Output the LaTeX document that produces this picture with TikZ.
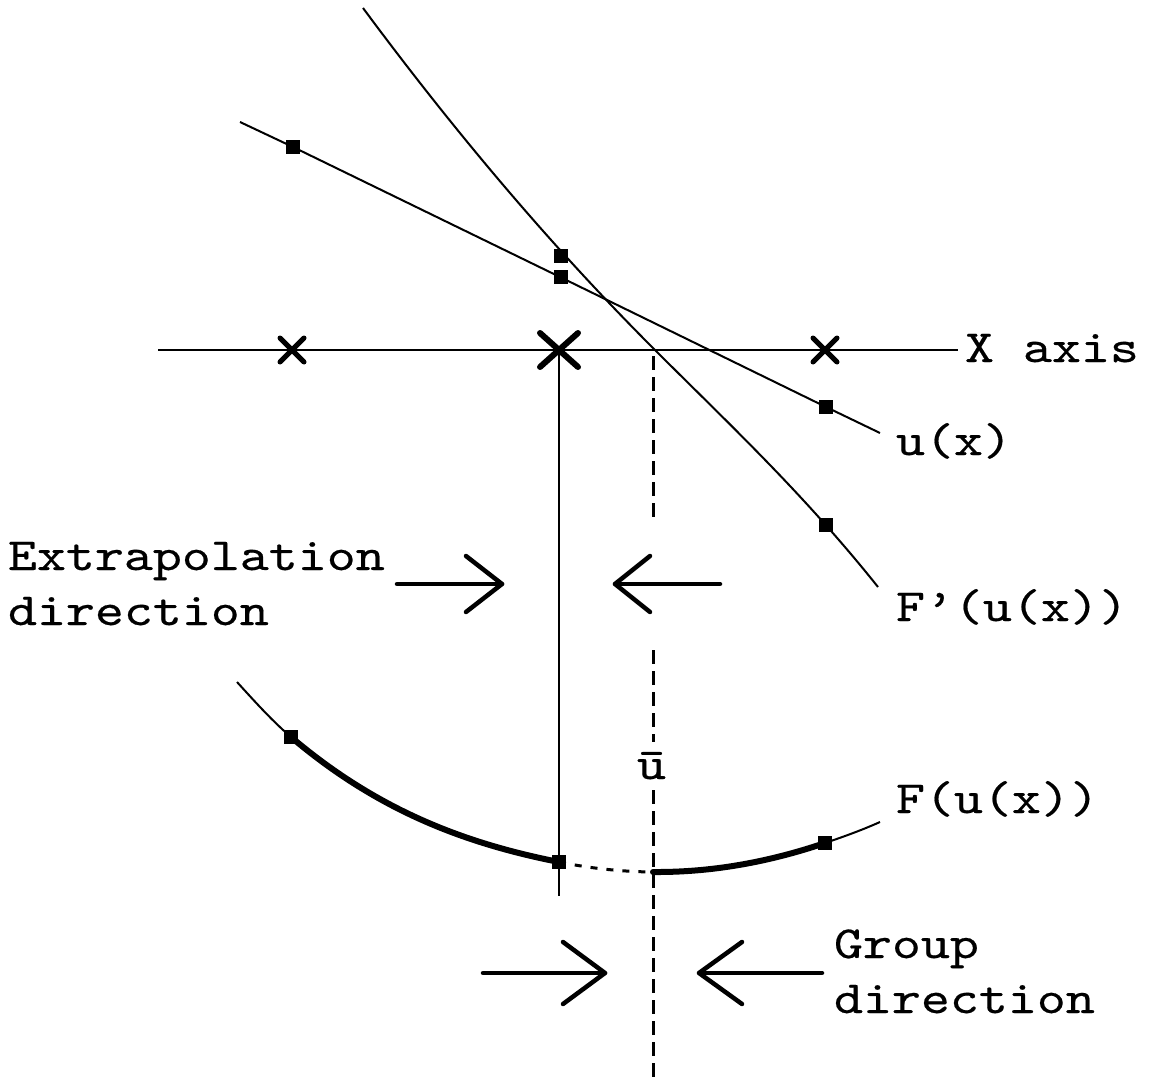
\documentclass[tikz,border=0pt]{standalone}
\usepackage{fontspec}
\usetikzlibrary{shapes.misc}
\newfontfamily\lblfam{lmmono10-regular.otf}[FakeBold=0.4, FakeStretch=1.2]
\newcommand\lblfont{\lblfam\fontsize{46}{55}\selectfont}
\begin{document}
\begin{tikzpicture}[x=1pt,y=-1pt,
  thinline/.style={line width=2pt},
  thickcurve/.style={line width=6pt, line cap=round},
  dotseg/.style={line width=3pt, dash pattern=on 7pt off 9pt},
  dashline/.style={line width=3pt, dash pattern=on 14pt off 7pt},
  marker/.style={rectangle, fill=black, minimum size=14pt, inner sep=0pt, outer sep=0pt},
  smallx/.style={draw, cross out, minimum width=19pt, minimum height=19pt, inner sep=0pt, line width=5pt, line cap=round},
  bigx/.style={draw, cross out, minimum width=32pt, minimum height=28pt, inner sep=0pt, line width=6pt, line cap=round},
  lbl/.style={anchor=base west, inner sep=0pt, outer sep=0pt, font=\lblfont},
  arrowline/.style={line width=4.5pt, line cap=round, line join=round}]
\useasboundingbox (0,0) rectangle (1152,1078);

% ---- X axis ----
\coordinate (axL) at (158,350);
\coordinate (axR) at (958,350);
\draw[thinline] (axL) -- (axR);
\node[lbl] (xaxis) at (965,362) {X axis};
\node[smallx] (x1) at (292,350) {};
\node[bigx] (x2) at (559,350) {};
\node[smallx] (x3) at (825,350) {};

% ---- u(x) ----
\node[marker] (u1) at (293,147) {};
\node[marker] (u2) at (561,277.5) {};
\node[marker] (u3) at (826,407) {};
\coordinate (uL) at (240,122);
\coordinate (uR) at (880,433);
\draw[thinline] (uL) -- (u1.center) -- (u2.center) -- (u3.center) -- (uR);
\node[lbl] (ulab) at (896,455) {u(x)};

% ---- F'(u(x)) ----
\node[marker] (fp1) at (561,256.5) {};
\node[marker] (fp2) at (826,525) {};
\coordinate (fpA) at (363,8);
\coordinate (fpB) at (654,349);
\coordinate (fpC) at (878,587);
\draw[thinline] (fpA) .. controls (460,139) and (557,252) .. (fpB)
                      .. controls (729,424) and (803,493) .. (fpC);
\node[lbl] (fplab) at (896,621) {F’(u(x))};

% ---- F(u(x)) ----
\node[marker] (F1) at (291,737) {};
\node[marker] (F2) at (559,862) {};
\node[marker] (F3) at (825,843) {};
\coordinate (FL) at (237,682);
\coordinate (FU) at (653,872);
\coordinate (FR) at (880,822);
\draw[thinline] (FL) .. controls (255,701.8) and (273,721.7) .. (F1.center);
\draw[thickcurve] (F1.center) .. controls (380,812.6) and (469,844.2) .. (F2.center);
\draw[dotseg] (F2.center) .. controls (590,868.3) and (621,871.7) .. (FU);
\draw[thickcurve] (FU) .. controls (710,872.5) and (767.3,862.6) .. (F3.center);
\draw[thinline] (F3.center) .. controls (843.3,836.8) and (861.7,830.2) .. (FR);
\node[lbl] (Flab) at (896,813) {F(u(x))};

% ---- verticals ----
\coordinate (vbot) at (559,896);
\draw[thinline] (x2.center) -- (vbot);
\coordinate (d0) at (653,356);
\coordinate (d1) at (653,522);
\coordinate (d2) at (653,650);
\coordinate (d3) at (653,742);
\coordinate (d4) at (653,790);
\coordinate (d5) at (653,1078);
\draw[dashline] (d0) -- (d1);
\draw[dashline] (d2) -- (d3);
\draw[dashline] (d4) -- (d5);
\node[lbl] (ubar) at (637,779) {ū};

% ---- extrapolation direction ----
\node[lbl] (extrap) at (8,570) {\begin{tabular}[t]{@{}l@{}}Extrapolation\\direction\end{tabular}};
\coordinate (ea0) at (397,584);
\coordinate (eaT) at (502,584);
\draw[arrowline] (ea0) -- (eaT);
\draw[arrowline] (eaT) ++(-36,-28) -- (eaT) -- ++(-36,28);
\coordinate (eb0) at (720,584);
\coordinate (ebT) at (615,584);
\draw[arrowline] (eb0) -- (ebT);
\draw[arrowline] (ebT) ++(35,-28) -- (ebT) -- ++(35,28);

% ---- group direction ----
\node[lbl] (group) at (834,958) {\begin{tabular}[t]{@{}l@{}}Group\\direction\end{tabular}};
\coordinate (ga0) at (483,973);
\coordinate (gaT) at (605,973);
\draw[arrowline] (ga0) -- (gaT);
\draw[arrowline] (gaT) ++(-42,-31) -- (gaT) -- ++(-42,31);
\coordinate (gb0) at (822,973);
\coordinate (gbT) at (699,973);
\draw[arrowline] (gb0) -- (gbT);
\draw[arrowline] (gbT) ++(43,-31) -- (gbT) -- ++(43,31);
\end{tikzpicture}
\end{document}
